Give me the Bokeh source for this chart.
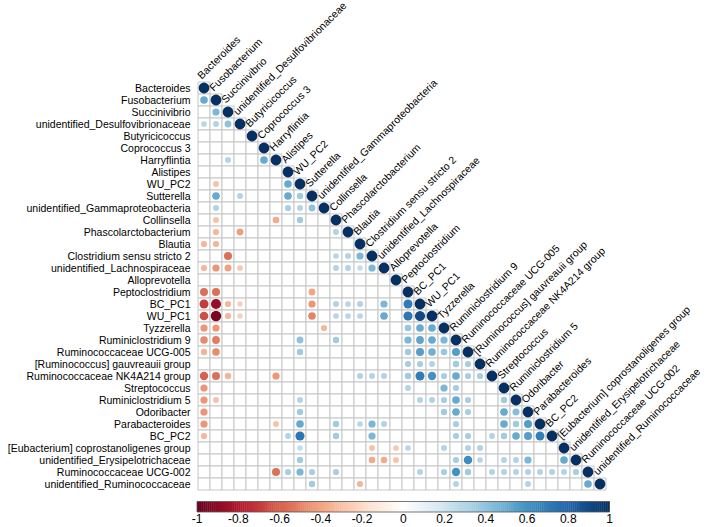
import numpy as np
from bokeh.plotting import figure
from bokeh.models import ColumnDataSource, LinearColorMapper, Range1d
from bokeh.transform import transform
from bokeh.core.properties import value
from bokeh.embed import file_html
from bokeh.resources import INLINE

taxa = [
    "Bacteroides", "Fusobacterium", "Succinivibrio", "unidentified_Desulfovibrionaceae",
    "Butyricicoccus", "Coprococcus 3", "Harryflintia", "Alistipes", "WU_PC2", "Sutterella",
    "unidentified_Gammaproteobacteria", "Collinsella", "Phascolarctobacterium", "Blautia",
    "Clostridium sensu stricto 2", "unidentified_Lachnospiraceae", "Alloprevotella",
    "Peptoclostridium", "BC_PC1", "WU_PC1", "Tyzzerella", "Ruminiclostridium 9",
    "Ruminococcaceae UCG-005", "[Ruminococcus] gauvreauii group", "Ruminococcaceae NK4A214 group",
    "Streptococcus", "Ruminiclostridium 5", "Odoribacter", "Parabacteroides", "BC_PC2",
    "[Eubacterium] coprostanoligenes group", "unidentified_Erysipelotrichaceae",
    "Ruminococcaceae UCG-002", "unidentified_Ruminococcaceae",
]

# significant correlations below the diagonal: column indices and r values per row
sig_cols = [
    [],
    [0],
    [1],
    [0, 1, 2],
    [],
    [],
    [2, 5],
    [],
    [1, 7],
    [1, 3, 7, 8],
    [1, 7, 8, 9],
    [1, 6, 8],
    [1, 3, 11],
    [0, 1],
    [2, 11, 12, 13],
    [0, 1, 2, 3, 11, 12, 13, 14],
    [],
    [0, 1, 9],
    [0, 1, 2, 3, 9, 11, 12, 13, 15, 17],
    [0, 1, 2, 3, 9, 11, 12, 13, 15, 17, 18],
    [0, 1, 10, 17, 18, 19],
    [0, 1, 8, 11, 17, 18, 19, 20],
    [0, 1, 8, 17, 18, 19, 20, 21],
    [17, 18, 19, 21, 22],
    [0, 1, 2, 6, 13, 14, 15, 17, 18, 19, 20, 21, 22, 23],
    [0, 17, 20, 21],
    [0, 1, 8, 18, 19, 20, 21, 22, 25],
    [0, 8, 20, 21, 22, 25, 26],
    [0, 6, 8, 11, 13, 14, 15, 21, 25, 26, 27],
    [0, 7, 8, 11, 14, 21, 22, 24, 25, 26, 27, 28],
    [8, 14, 16, 17, 20, 22, 23],
    [8, 14, 15, 16, 21, 22, 23, 25, 26, 27, 30],
    [6, 7, 8, 9, 11, 18, 20, 21, 22, 24, 25, 26, 27, 28, 29, 30, 31],
    [9, 13, 21, 27, 32],
]
sig_vals = [
    [],
    [0.50],
    [0.45],
    [0.28, 0.30, 0.40],
    [],
    [],
    [0.30, 0.50],
    [],
    [-0.30, 0.50],
    [0.50, 0.30, 0.50, 0.35],
    [0.30, 0.33, 0.30, 0.40],
    [-0.30, -0.38, 0.35],
    [-0.33, -0.42, 0.30],
    [-0.33, -0.33],
    [-0.55, 0.28, 0.30, 0.45],
    [-0.33, -0.45, -0.42, -0.28, 0.30, 0.30, 0.25, 0.45],
    [],
    [-0.55, -0.55, -0.40],
    [-0.70, -0.88, -0.33, -0.25, -0.45, 0.30, 0.28, 0.30, 0.45, 0.70],
    [-0.65, -0.95, -0.33, -0.25, -0.50, 0.28, 0.28, 0.28, 0.50, 0.72, 0.90],
    [-0.45, -0.45, -0.33, 0.38, 0.50, 0.50],
    [-0.48, -0.52, 0.40, 0.35, 0.45, 0.52, 0.50, 0.45],
    [-0.35, -0.48, 0.35, 0.35, 0.55, 0.48, 0.38, 0.55],
    [0.33, 0.33, 0.30, 0.35, 0.33],
    [-0.60, -0.55, -0.35, -0.45, 0.30, 0.30, 0.30, 0.35, 0.70, 0.60, 0.33, 0.50, 0.33, 0.33],
    [-0.45, 0.30, 0.45, 0.33],
    [-0.45, -0.30, 0.30, 0.30, 0.30, 0.33, 0.50, 0.33, 0.35],
    [-0.45, 0.35, 0.35, 0.50, 0.33, 0.50, 0.42],
    [-0.45, -0.30, 0.50, 0.35, 0.28, 0.45, 0.30, 0.33, 0.50, 0.35, 0.55],
    [-0.33, 0.30, 0.72, 0.35, 0.45, 0.33, 0.33, 0.30, 0.35, 0.50, 0.55, 0.68],
    [0.25, -0.30, -0.28, 0.28, 0.30, 0.30, 0.30],
    [0.35, -0.38, -0.38, -0.30, 0.33, 0.62, 0.28, 0.30, 0.30, 0.45, 0.50],
    [-0.55, 0.33, 0.45, 0.33, 0.33, 0.30, 0.33, 0.60, 0.35, 0.30, 0.30, 0.30, 0.30, 0.30, 0.30, 0.30, 0.33],
    [0.35, -0.33, 0.30, 0.30, 0.50],
]

cbar_ticks = [-1, -0.8, -0.6, -0.4, -0.2, 0, 0.2, 0.4, 0.6, 0.8, 1]
cbar_labels = ["-1", "-0.8", "-0.6", "-0.4", "-0.2", "0", "0.2", "0.4", "0.6", "0.8", "1"]

# ---- colour ramp (corrplot RdBu) ----
anchors = ["#67001F", "#B2182B", "#D6604D", "#F4A582", "#FDDBC7", "#FFFFFF",
           "#D1E5F0", "#92C5DE", "#4393C3", "#2166AC", "#053061"]
def hex2rgb(h):
    return [int(h[k:k + 2], 16) for k in (1, 3, 5)]
arr = np.array([hex2rgb(h) for h in anchors], dtype=float)
t_a = np.linspace(0, 1, len(anchors))
t_n = np.linspace(0, 1, 200)
pal = []
for t in t_n:
    rgb = [np.interp(t, t_a, arr[:, c]) for c in range(3)]
    pal.append("#%02x%02x%02x" % tuple(int(round(v)) for v in rgb))
mapper = LinearColorMapper(palette=pal, low=-1, high=1)

n = len(taxa)
FONT = value("Liberation Sans")
W, H = 709, 527
X0, Y0, CELL = 203.5, 87.5, 12.0   # pixel centre of cell (0, 0) and cell size

p = figure(width=W, height=H,
           x_range=Range1d(-X0 / CELL, (W - X0) / CELL),
           y_range=Range1d((H - Y0) / CELL, -Y0 / CELL),
           output_backend="svg", toolbar_location=None,
           x_axis_location=None, y_axis_location=None, min_border=0)
p.outline_line_color = None
p.grid.grid_line_color = None
p.background_fill_color = "white"
p.border_fill_color = "white"

def ypx(py):
    return (py - Y0) / CELL
def xpx(px):
    return (px - X0) / CELL

# grid cells (lower triangle incl. diagonal)
cx, cy = [], []
for i in range(n):
    for j in range(i + 1):
        cx.append(j)
        cy.append(i)
p.rect(x=cx, y=cy, width=1, height=1, fill_color="white",
       line_color="#c6c6c6", line_width=1)

# circles
px, py, pr = [], [], []
for i in range(n):
    px.append(i); py.append(i); pr.append(1.0)
    for j, r in zip(sig_cols[i], sig_vals[i]):
        px.append(j); py.append(i); pr.append(r)
src = ColumnDataSource(dict(x=px, y=py, r=pr,
                            rad=[0.45 * np.sqrt(abs(r)) for r in pr]))
p.circle(x="x", y="y", radius="rad", source=src,
         fill_color=transform("r", mapper), line_color=None)

# row labels
p.text(x=[xpx(190)] * n, y=list(range(n)), text=taxa, text_font=FONT,
       text_font_size="10.5px", text_align="right", text_baseline="middle",
       text_color="black")

# column labels (rotated)
p.text(x=[j - 0.42 for j in range(n)], y=[j - 0.93 for j in range(n)], text=taxa,
       text_font=FONT, text_font_size="10.5px", text_align="left",
       text_baseline="middle", angle=np.pi / 4, text_color="black")

# colour bar
bx0, bx1 = xpx(196.5), xpx(609)
by_top, by_bot = ypx(501), ypx(511.5)
nseg = len(pal)
vals = np.linspace(-1, 1, nseg + 1)
lefts = [bx0 + (v + 1) / 2 * (bx1 - bx0) for v in vals[:-1]]
rights = [bx0 + (v + 1) / 2 * (bx1 - bx0) + 0.03 for v in vals[1:]]
p.quad(left=lefts, right=rights, top=[by_top] * nseg, bottom=[by_bot] * nseg,
       fill_color=pal, line_color=None)
p.quad(left=[bx0], right=[bx1], top=[by_top], bottom=[by_bot],
       fill_color=None, line_color="#555555", line_width=0.8)
p.text(x=[bx0 + (v + 1) / 2 * (bx1 - bx0) for v in cbar_ticks],
       y=[ypx(513.5)] * len(cbar_ticks), text=cbar_labels,
       text_font=FONT, text_font_size="12px", text_align="center",
       text_baseline="top", text_color="black")

open("out.html", "w").write(file_html(p, INLINE))
